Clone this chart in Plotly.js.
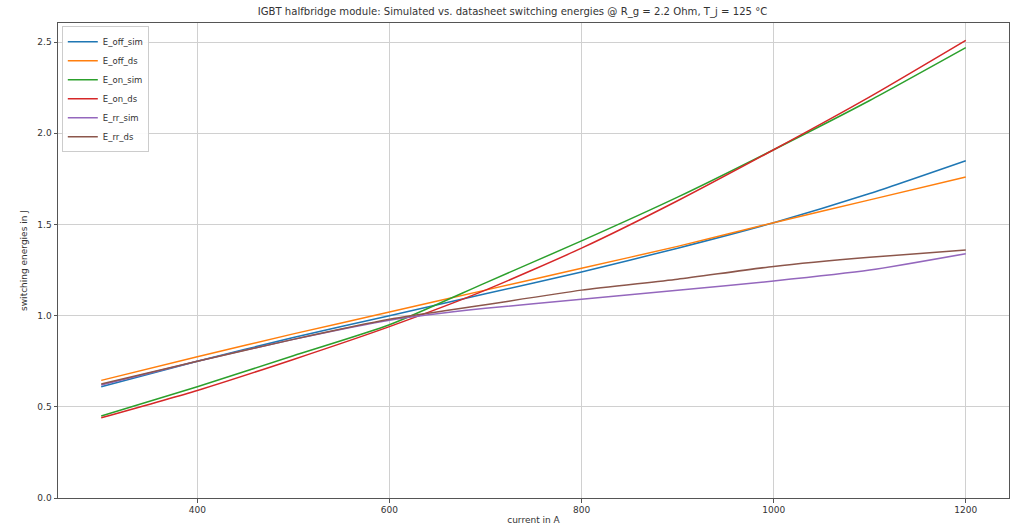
<!DOCTYPE html>
<html>
<head>
<meta charset="utf-8">
<script src="https://cdn.plot.ly/plotly-3.0.1.min.js"></script>
<style>html,body{margin:0;padding:0;background:#fff;}#chart{width:1025px;height:526px;}</style>
</head>
<body>
<div id="chart"></div>
<script>
const current = [300, 400, 500, 600, 700, 800, 900, 1000, 1100, 1200];
const E_off_sim = [0.61, 0.75, 0.88, 1.00, 1.12, 1.24, 1.37, 1.51, 1.67, 1.85];
const E_off_ds  = [0.645, 0.775, 0.90, 1.02, 1.14, 1.26, 1.38, 1.51, 1.635, 1.76];
const E_on_sim  = [0.45, 0.61, 0.78, 0.95, 1.18, 1.41, 1.65, 1.91, 2.18, 2.47];
const E_on_ds   = [0.44, 0.59, 0.76, 0.94, 1.14, 1.37, 1.63, 1.91, 2.20, 2.51];
const E_rr_sim  = [0.62, 0.75, 0.87, 0.975, 1.04, 1.09, 1.14, 1.19, 1.25, 1.34];
const E_rr_ds   = [0.625, 0.75, 0.87, 0.98, 1.06, 1.14, 1.20, 1.27, 1.32, 1.36];

const seriesNames = ["E_off_sim", "E_off_ds", "E_on_sim", "E_on_ds", "E_rr_sim", "E_rr_ds"];
const seriesValues = [E_off_sim, E_off_ds, E_on_sim, E_on_ds, E_rr_sim, E_rr_ds];
const colors = ["#1f77b4", "#ff7f0e", "#2ca02c", "#d62728", "#9467bd", "#8c564b"];

const traces = seriesNames.map((n, i) => ({
  x: current, y: seriesValues[i], name: n, type: "scatter", mode: "lines",
  line: {color: colors[i], width: 1.5, shape: "spline", smoothing: 0.6}
}));

const font = {family: "DejaVu Sans, sans-serif", size: 9, color: "#333"};
const axisCommon = {
  showgrid: true, gridcolor: "#d0d0d0", gridwidth: 1,
  showline: true, linecolor: "#555", linewidth: 1, mirror: true,
  ticks: "outside", ticklen: 3.5, tickcolor: "#555", zeroline: false,
  tickfont: font
};
const layout = {
  width: 1025, height: 526,
  margin: {l: 58, r: 16, t: 23, b: 28},
  paper_bgcolor: "#fff", plot_bgcolor: "#fff",
  font: font,
  title: {text: "IGBT halfbridge module: Simulated vs. datasheet switching energies @ R_g = 2.2 Ohm, T_j = 125 °C",
          font: {family: "DejaVu Sans, sans-serif", size: 10.1, color: "#333"}, x: 0.5, xanchor: "center", y: 0.978, yanchor: "middle"},
  xaxis: Object.assign({}, axisCommon, {range: [255, 1245], tickvals: [400, 600, 800, 1000, 1200],
          title: {text: "current in A", font: font, standoff: 2}}),
  yaxis: Object.assign({}, axisCommon, {range: [0, 2.605], tickvals: [0, 0.5, 1, 1.5, 2, 2.5], ticktext: ["0.0","0.5","1.0","1.5","2.0","2.5"],
          title: {text: "switching energies in J", font: font, standoff: 8}}),
  showlegend: true,
  legend: {x: 0.004, y: 0.993, xanchor: "left", yanchor: "top", bgcolor: "rgba(255,255,255,0.9)",
           bordercolor: "#ccc", borderwidth: 1, font: {family: "DejaVu Sans, sans-serif", size: 8.5, color: "#333"},
           tracegroupgap: 0, itemwidth: 30}
};
Plotly.newPlot("chart", traces, layout, {staticPlot: true, displayModeBar: false});
</script>
</body>
</html>
